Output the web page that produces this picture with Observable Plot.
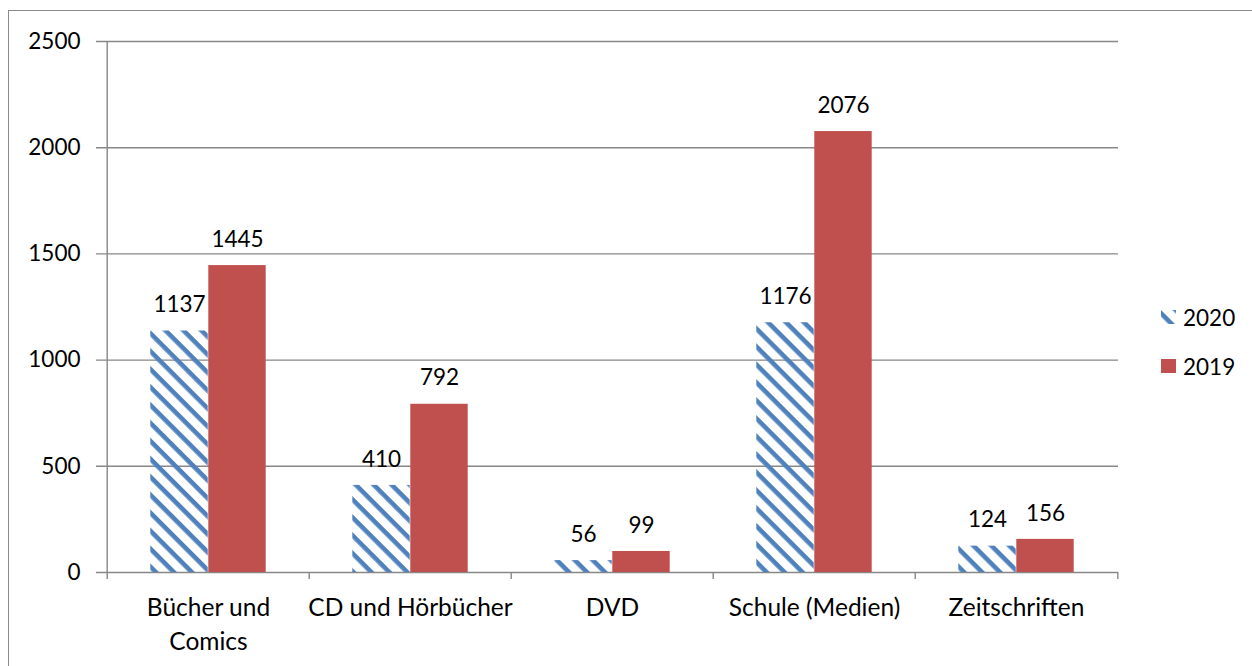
<!DOCTYPE html>
<html><head><meta charset="utf-8">
<script src="https://cdn.jsdelivr.net/npm/d3@7"></script>
<script src="https://cdn.jsdelivr.net/npm/@observablehq/plot@0.6"></script>
<style>
body{margin:0;background:#fff;}
#wrap{position:relative;width:1252px;height:666px;overflow:hidden;font-family:Lato,sans-serif;background:#fff;}
#border{position:absolute;left:8px;top:10px;width:1300px;height:720px;border:1.5px solid #8a8a8a;box-sizing:border-box}
#chart{position:absolute;left:0;top:0}
.leg{position:absolute;left:1161px;height:24px;display:flex;align-items:center;font-size:22.5px;color:#000;}
.leg svg{margin-right:7px}
</style></head>
<body>
<div id="wrap"><div id="border"></div><div id="chart"></div>
<div class="leg" style="top:305px"><svg width="15" height="14"><defs><pattern id="hatchLeg" patternUnits="userSpaceOnUse" width="12.7" height="12.7" patternTransform="rotate(45)"><rect x="0" y="0" width="12.7" height="4.6" fill="#4F81BD"/></pattern></defs><rect width="15" height="14" fill="url(#hatchLeg)"/></svg><span>2020</span></div>
<div class="leg" style="top:354px"><svg width="15" height="14"><rect width="15" height="14" fill="#C0504D"/></svg><span>2019</span></div>
</div>
<script>
const categories = ["Bücher und Comics", "CD und Hörbücher", "DVD", "Schule (Medien)", "Zeitschriften"];
const categoryLabels = ["Bücher und\nComics", "CD und Hörbücher", "DVD", "Schule (Medien)", "Zeitschriften"];
const series = ["2020", "2019"];
const values2020 = [1137, 410, 56, 1176, 124];
const values2019 = [1445, 792, 99, 2076, 156];
const yTicks = [0, 500, 1000, 1500, 2000, 2500];

const data = categories.flatMap((c, i) => [
  {category: c, year: series[0], value: values2020[i]},
  {category: c, year: series[1], value: values2019[i]}
]);
const d2020 = data.filter(d => d.year === "2020");
const d2019 = data.filter(d => d.year === "2019");

const W = 1252, H = 666, mL = 105, mR = 134, mT = 41, mB = 94;
const half = (W - mL - mR) / categories.length / 2;
const barW = 58;
const grid = "#878787";

const chart = Plot.plot({
  width: W, height: H,
  marginLeft: mL, marginRight: mR, marginTop: mT, marginBottom: mB,
  style: {fontFamily: "Lato, sans-serif", fontSize: "22px", color: "#000", background: "transparent", overflow: "visible"},
  x: {domain: categories, padding: 0, axis: null},
  y: {domain: [0, 2500], axis: null},
  marks: [
    Plot.ruleY(yTicks, {stroke: grid, strokeWidth: 1.4, insetLeft: -9}),
    Plot.barY(d2020, {x: "category", y: "value", fill: "url(#hatch2020)", insetLeft: half - barW, insetRight: half}),
    Plot.barY(d2019, {x: "category", y: "value", fill: "#C0504D", insetLeft: half, insetRight: half - barW}),
    Plot.ruleX([categories[0]], {dx: -half, y1: 2500, y2: 0, insetBottom: -7, stroke: grid, strokeWidth: 1.4}),
    Plot.ruleX(categories.slice(1), {dx: -half, y1: 0, y2: 0, insetBottom: -7, stroke: grid, strokeWidth: 1.4}),
    Plot.ruleX([categories[categories.length - 1]], {dx: half, y1: 0, y2: 0, insetBottom: -7, stroke: grid, strokeWidth: 1.4}),
    Plot.text(d2020, {x: "category", y: "value", text: d => String(d.value), dx: -barW / 2, dy: -26, fontSize: 22.5}),
    Plot.text(d2019, {x: "category", y: "value", text: d => String(d.value), dx: barW / 2, dy: -26, fontSize: 22.5}),
    Plot.axisY({ticks: yTicks, tickSize: 0, tickPadding: 25, tickFormat: d => String(d), label: null, fontSize: 22.5}),
    Plot.axisX({tickSize: 0, tickPadding: 19, tickFormat: d => categoryLabels[categories.indexOf(d)], lineHeight: 1.4, label: null, fontSize: 24.5})
  ]
});

const defs = d3.select(chart).insert("defs", ":first-child");
const pat = defs.append("pattern").attr("id", "hatch2020").attr("patternUnits", "userSpaceOnUse")
  .attr("width", 12.7).attr("height", 12.7).attr("patternTransform", "rotate(45)");
pat.append("rect").attr("x", 0).attr("y", 0).attr("width", 12.7).attr("height", 4.6).attr("fill", "#4F81BD");

document.getElementById("chart").appendChild(chart);
</script>
</body></html>
